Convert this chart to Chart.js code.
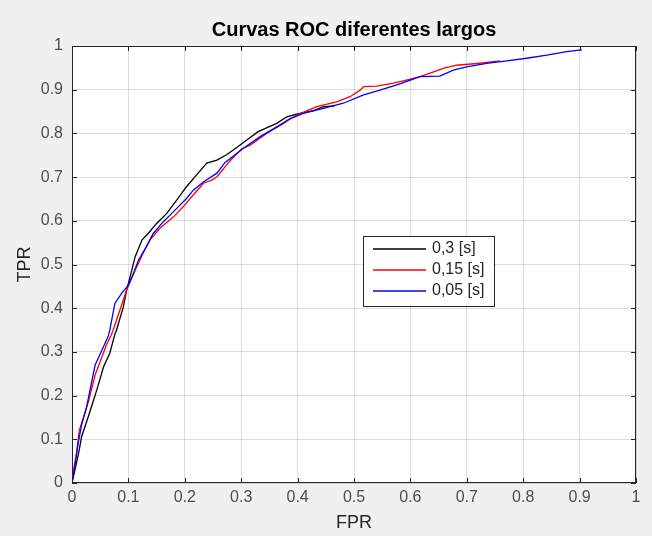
<!DOCTYPE html>
<html>
<head>
<meta charset="utf-8">
<script src="https://cdn.jsdelivr.net/npm/chart.js@4.4.0/dist/chart.umd.min.js"></script>
<style>
  html, body { margin: 0; padding: 0; background: #f0f0f0; }
  #wrap { width: 652px; height: 536px; }
</style>
</head>
<body>
<div id="wrap"><canvas id="c" width="652" height="536"></canvas></div>
<script>
// ---- Data ----
const chartTitle = 'Curvas ROC diferentes largos';
const xAxisLabel = 'FPR';
const yAxisLabel = 'TPR';
const tickLabels = ['0','0.1','0.2','0.3','0.4','0.5','0.6','0.7','0.8','0.9','1'];
const seriesNames = ['0,3 [s]', '0,15 [s]', '0,05 [s]'];

const fpr03 = [0, 0.008, 0.012, 0.017, 0.029, 0.044, 0.056, 0.067, 0.076, 0.079, 0.091, 0.097, 0.106, 0.112, 0.124, 0.135, 0.150, 0.168, 0.186, 0.203, 0.221, 0.239, 0.257, 0.274, 0.286, 0.310, 0.330, 0.363, 0.381, 0.398, 0.428, 0.446, 0.466];
const tpr03 = [0, 0.046, 0.070, 0.106, 0.152, 0.213, 0.266, 0.297, 0.340, 0.350, 0.403, 0.442, 0.487, 0.518, 0.556, 0.571, 0.594, 0.617, 0.648, 0.678, 0.705, 0.732, 0.739, 0.751, 0.762, 0.785, 0.804, 0.823, 0.838, 0.844, 0.852, 0.861, 0.863];

const fpr015 = [0, 0.004, 0.007, 0.013, 0.020, 0.029, 0.041, 0.050, 0.061, 0.070, 0.073, 0.085, 0.097, 0.112, 0.126, 0.138, 0.156, 0.180, 0.197, 0.215, 0.233, 0.248, 0.257, 0.280, 0.301, 0.316, 0.345, 0.375, 0.398, 0.434, 0.469, 0.493, 0.511, 0.517, 0.540, 0.570, 0.593, 0.617, 0.641, 0.658, 0.682, 0.718, 0.759];
const tpr015 = [0, 0.040, 0.060, 0.121, 0.148, 0.186, 0.247, 0.278, 0.316, 0.340, 0.350, 0.396, 0.442, 0.487, 0.526, 0.556, 0.583, 0.609, 0.632, 0.659, 0.686, 0.693, 0.701, 0.737, 0.765, 0.773, 0.800, 0.823, 0.842, 0.861, 0.872, 0.884, 0.899, 0.907, 0.908, 0.915, 0.922, 0.930, 0.941, 0.949, 0.956, 0.960, 0.966];

const fpr005 = [0, 0.004, 0.011, 0.017, 0.026, 0.038, 0.041, 0.053, 0.064, 0.067, 0.076, 0.088, 0.100, 0.109, 0.118, 0.132, 0.144, 0.162, 0.180, 0.203, 0.215, 0.233, 0.257, 0.271, 0.304, 0.333, 0.363, 0.387, 0.410, 0.446, 0.481, 0.517, 0.546, 0.576, 0.600, 0.617, 0.652, 0.676, 0.700, 0.735, 0.771, 0.806, 0.842, 0.877, 0.904];
const tpr005 = [0, 0.030, 0.091, 0.133, 0.175, 0.251, 0.270, 0.304, 0.335, 0.350, 0.411, 0.434, 0.453, 0.480, 0.510, 0.541, 0.571, 0.598, 0.621, 0.651, 0.670, 0.689, 0.709, 0.733, 0.766, 0.792, 0.815, 0.834, 0.846, 0.857, 0.869, 0.888, 0.899, 0.911, 0.922, 0.930, 0.931, 0.945, 0.952, 0.960, 0.966, 0.972, 0.979, 0.987, 0.991];

const seriesColors = ['#000000', '#ff0000', '#0000ff'];

function pts(xs, ys) { return xs.map((x, i) => ({ x: x, y: ys[i] })); }

const FONT = "'Liberation Sans', Arial, Helvetica, sans-serif";

const decorPlugin = {
  id: 'decor',
  beforeDraw(chart) {
    const ctx = chart.ctx, a = chart.chartArea;
    ctx.save();
    ctx.fillStyle = '#f0f0f0';
    ctx.fillRect(0, 0, chart.width, chart.height);
    ctx.fillStyle = '#ffffff';
    ctx.fillRect(a.left, a.top, a.right - a.left, a.bottom - a.top);
    ctx.restore();
  },
  afterDraw(chart) {
    const ctx = chart.ctx, a = chart.chartArea;
    const xs = chart.scales.x, ys = chart.scales.y;
    ctx.save();
    // box
    ctx.strokeStyle = '#262626';
    ctx.lineWidth = 1;
    ctx.strokeRect(Math.round(a.left) + 0.5, Math.round(a.top) + 0.5, Math.round(a.right - a.left) - 1, Math.round(a.bottom - a.top) - 1);
    // inward ticks on all four sides
    const tl = 5;
    ctx.beginPath();
    for (let i = 0; i < tickLabels.length; i++) {
      const v = i / 10;
      const px = Math.round(xs.getPixelForValue(v)) + 0.5;
      ctx.moveTo(px, a.bottom); ctx.lineTo(px, a.bottom - tl);
      ctx.moveTo(px, a.top); ctx.lineTo(px, a.top + tl);
      const py = Math.round(ys.getPixelForValue(v)) + 0.5;
      ctx.moveTo(a.left, py); ctx.lineTo(a.left + tl, py);
      ctx.moveTo(a.right, py); ctx.lineTo(a.right - tl, py);
    }
    ctx.stroke();

    // title
    ctx.fillStyle = '#000000';
    ctx.textAlign = 'center';
    ctx.textBaseline = 'middle';
    ctx.font = 'bold 20px ' + FONT;
    ctx.fillText(chartTitle, (a.left + a.right) / 2, 30);
    // axis labels
    ctx.fillStyle = '#262626';
    ctx.font = '18px ' + FONT;
    ctx.fillText(xAxisLabel, (a.left + a.right) / 2, 523);
    ctx.save();
    ctx.translate(25, (a.top + a.bottom) / 2);
    ctx.rotate(-Math.PI / 2);
    ctx.fillText(yAxisLabel, 0, 0);
    ctx.restore();

    // legend
    const lx = 363, ly = 236, lw = 131, lh = 70;
    ctx.fillStyle = '#ffffff';
    ctx.fillRect(lx, ly, lw, lh);
    ctx.strokeStyle = '#262626';
    ctx.lineWidth = 1;
    ctx.strokeRect(lx + 0.5, ly + 0.5, lw, lh);
    ctx.font = '16px ' + FONT;
    ctx.textAlign = 'left';
    ctx.textBaseline = 'middle';
    const rowY = [249, 270, 291];
    for (let i = 0; i < seriesNames.length; i++) {
      ctx.beginPath();
      ctx.strokeStyle = seriesColors[i];
      ctx.lineWidth = 1.6;
      ctx.moveTo(373, rowY[i]);
      ctx.lineTo(426, rowY[i]);
      ctx.stroke();
      ctx.fillStyle = '#262626';
      ctx.fillText(seriesNames[i], 432, rowY[i]);
    }
    ctx.restore();
  }
};

const datasets = [
  { label: seriesNames[0], data: pts(fpr03, tpr03), borderColor: seriesColors[0], order: 3 },
  { label: seriesNames[1], data: pts(fpr015, tpr015), borderColor: seriesColors[1], order: 2 },
  { label: seriesNames[2], data: pts(fpr005, tpr005), borderColor: seriesColors[2], order: 1 }
].map(d => Object.assign(d, { showLine: true, pointRadius: 0, borderWidth: 1.3, fill: false, tension: 0, backgroundColor: d.borderColor }));

new Chart(document.getElementById('c'), {
  type: 'scatter',
  data: { datasets: datasets },
  options: {
    responsive: false,
    animation: false,
    devicePixelRatio: 1,
    layout: { padding: { left: 0, top: 46, right: 16, bottom: 0 } },
    plugins: { legend: { display: false }, title: { display: false }, tooltip: { enabled: false } },
    scales: {
      x: {
        type: 'linear', min: 0, max: 1,
        afterFit(s) { s.height = 53; },
        ticks: { stepSize: 0.1, color: '#4d4d4d', font: { family: FONT, size: 16 }, padding: 5,
                 callback: v => tickLabels[Math.round(v * 10)] },
        grid: { color: 'rgba(0,0,0,0.13)', drawTicks: false },
        border: { display: false }
      },
      y: {
        type: 'linear', min: 0, max: 1,
        afterFit(s) { s.width = 72; },
        ticks: { stepSize: 0.1, color: '#4d4d4d', font: { family: FONT, size: 16 }, padding: 9,
                 callback: v => tickLabels[Math.round(v * 10)] },
        grid: { color: 'rgba(0,0,0,0.13)', drawTicks: false },
        border: { display: false }
      }
    }
  },
  plugins: [decorPlugin]
});
</script>
</body>
</html>
